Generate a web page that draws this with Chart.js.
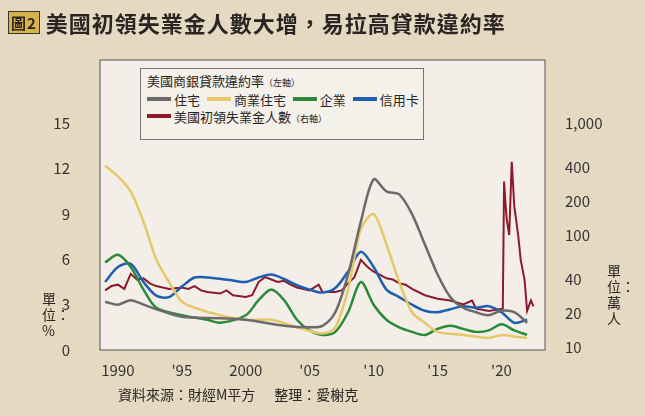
<!DOCTYPE html><html><head><meta charset="utf-8">
<script src="https://cdn.jsdelivr.net/npm/chart.js@4"></script>
<style>
body{margin:0;width:645px;height:416px;background:#e6d9c2;font-family:"Noto Sans CJK TC",sans-serif;position:relative;overflow:hidden}
#c{position:absolute;left:0;top:0}
.t{position:absolute;color:#2a2522}
.s{display:inline-block;width:24px;height:4px;vertical-align:4px;margin-right:3px}
</style></head><body>
<canvas id="c" width="645" height="416"></canvas>
<div class="t" style="left:8px;top:6px;font-size:22px;font-weight:bold;letter-spacing:1px"><span style="font-size:15px;border:1px solid #333;padding:0 2px;background:#d8b24a;vertical-align:3px">圖2</span> 美國初領失業金人數大增，易拉高貸款違約率</div>
<div class="t" style="left:140px;top:68px;width:284px;height:72px;border:1px solid #777;background:#f4f0ea;font-size:13px;line-height:17px;padding:3px 6px;box-sizing:border-box;white-space:nowrap">
美國商銀貸款違約率<span style="font-size:9px">（左軸）</span><br>
<span class="s" style="background:#6b6b6b"></span>住宅 <span class="s" style="background:#e6c86a;margin-left:4px"></span>商業住宅 <span class="s" style="background:#2a8a3a;margin-left:4px"></span>企業 <span class="s" style="background:#1f5fb0;margin-left:4px"></span>信用卡<br>
<span class="s" style="background:#8b1a2a"></span>美國初領失業金人數<span style="font-size:9px">（右軸）</span></div>
<div class="t" style="left:42px;top:290px;width:16px;font-size:14px;line-height:16px">單位：%</div>
<div class="t" style="left:607px;top:262px;width:16px;font-size:14px;line-height:16px">單位：萬人</div>
<div class="t" style="left:118px;top:384px;font-size:14px">資料來源：財經M平方 &nbsp;&nbsp;&nbsp;&nbsp;&nbsp;整理：愛榭克</div>
<script>
const resYears=[1989,1990,1991,1992,1993,1995,1998,2000,2003,2005,2006,2007,2008,2009,2010,2011,2012,2013,2014,2015,2016,2017,2018,2019,2020,2021,2022];
const resVals=[3.2,3,3.3,3.0,2.7,2.2,2.1,2.0,1.6,1.5,1.6,2.5,5,8.5,11.3,10.5,10.3,9,7,5,3.5,2.8,2.5,2.3,2.6,2.5,1.8];
const comYears=[1989,1990,1991,1992,1993,1994,1995,1996,1998,2000,2002,2004,2006,2007,2008,2009,2010,2011,2012,2013,2014,2015,2017,2019,2020,2021,2022];
const comVals=[12.2,11.5,10.5,8.5,6,4.5,3.2,2.8,2.3,2.0,2.0,1.5,1.1,1.5,4,8,9,7,4.5,2.5,1.8,1.2,1.0,0.8,1.0,0.9,0.8];
const bizYears=[1989,1990,1991,1992,1993,1995,1997,1998,2000,2001,2002,2003,2004,2005,2006,2007,2008,2009,2010,2011,2012,2013,2014,2015,2016,2017,2018,2019,2020,2021,2022];
const bizVals=[5.8,6.3,5.5,4,2.8,2.3,2.0,1.8,2.3,3.3,4,3.3,2,1.3,1.0,1.2,2.5,4.5,3,2,1.5,1.2,1.0,1.4,1.6,1.4,1.2,1.3,1.7,1.3,1.0];
const cardYears=[1989,1990,1991,1992,1993,1994,1995,1996,1997,1999,2000,2001,2002,2003,2004,2005,2006,2007,2008,2009,2010,2011,2012,2013,2014,2015,2016,2017,2018,2019,2020,2021,2022];
const cardVals=[4.5,5.5,5.7,4.5,3.6,3.5,4.2,4.8,4.8,4.6,4.5,4.8,5.0,4.7,4.3,4.0,3.8,4.1,5.2,6.5,5.5,4.0,3.5,3.0,2.6,2.5,2.7,2.9,2.8,2.9,2.5,1.8,2.0];
const clmYears=[1989,1989.5,1990,1990.5,1991,1991.5,1992,1992.5,1993,1993.5,1994,1995,1995.5,1996,1996.5,1997,1998,1998.5,1999,2000,2000.5,2001,2001.5,2002,2002.5,2003,2003.5,2004,2005,2005.7,2006,2007,2007.5,2008,2008.5,2009,2009.5,2010,2010.5,2011,2011.5,2012,2012.5,2013,2014,2015,2016,2017,2017.7,2018,2019,2020.1,2020.2,2020.3,2020.4,2020.6,2020.8,2021,2021.3,2021.5,2021.8,2022,2022.3,2022.5];
const clmVals=[32,35,36,33,45,40,41,37,35,34,33,34,33,35,32,31,30,32,29,28,29,38,42,40,38,39,36,34,32,36,31,31,32,37,42,60,52,47,44,41,40,37,36,33,29,27,26,24,26,22,21,22,300,200,140,100,450,180,100,60,40,21,26,23];
const xTicks=[1990,1995,2000,2005,2010,2015,2020];
const xLabels=['1990',"'95",'2000',"'05","'10","'15","'20"];
const leftTicks=[0,3,6,9,12,15];
const rightTicks=[10,20,40,100,200,400,1000];
const rightLabels=['10','20','40','100','200','400','1,000'];
const pts=(xs,ys)=>xs.map((x,i)=>({x,y:ys[i]}));
const ds=(l,xs,ys,c,ax)=>({label:l,data:pts(xs,ys),borderColor:c,borderWidth:2.5,pointRadius:0,tension:0.3,yAxisID:ax||'y'});
const bg={id:'bg',beforeDatasetsDraw(ch){const a=ch.chartArea,c=ch.ctx;c.save();c.fillStyle='#f3efe8';c.fillRect(a.left,a.top,a.right-a.left,a.bottom-a.top);c.strokeStyle='#555';c.lineWidth=1;c.strokeRect(a.left,a.top,a.right-a.left,a.bottom-a.top);c.restore();}};
const tf={color:'#333',font:{size:15,family:'Noto Sans CJK TC'}};
new Chart(document.getElementById('c'),{type:'line',data:{datasets:[
ds('住宅',resYears,resVals,'#6b6b6b'),ds('商業住宅',comYears,comVals,'#e6c86a'),ds('企業',bizYears,bizVals,'#2a8a3a'),ds('信用卡',cardYears,cardVals,'#1f5fb0'),
Object.assign(ds('美國初領失業金人數',clmYears,clmVals,'#8b1a2a','y2'),{tension:0,borderWidth:2})]},
options:{responsive:false,animation:false,layout:{padding:{top:60}},plugins:{legend:{display:false},tooltip:{enabled:false}},
scales:{x:{type:'linear',min:1988.6,max:2023.4,grid:{display:false},border:{display:false},afterFit(s){s.height=66},afterBuildTicks(s){s.ticks=xTicks.map(v=>({value:v}))},ticks:{...tf,callback:v=>xLabels[xTicks.indexOf(v)]}},
y:{min:0,max:19.2,position:'left',grid:{display:false},border:{display:false},afterFit(s){s.width=100},afterBuildTicks(s){s.ticks=leftTicks.map(v=>({value:v}))},ticks:{...tf,padding:22}},
y2:{type:'logarithmic',min:9.4,max:3650,position:'right',grid:{display:false},border:{display:false},afterFit(s){s.width=100},afterBuildTicks(s){s.ticks=rightTicks.map(v=>({value:v}))},ticks:{...tf,padding:12,callback:v=>rightLabels[rightTicks.indexOf(v)]}}}},plugins:[bg]});
</script></body></html>
